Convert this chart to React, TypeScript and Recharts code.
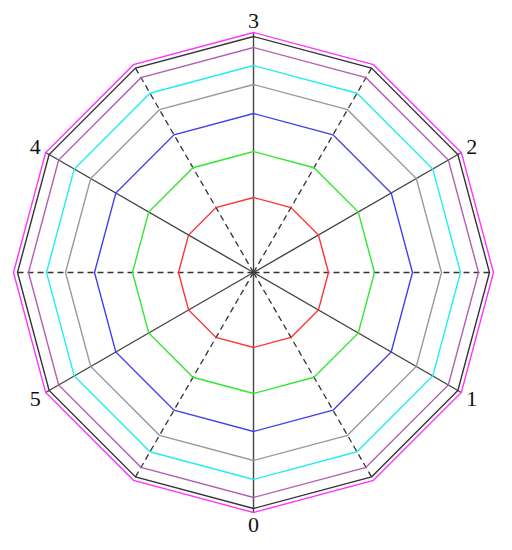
import React from 'react';
import { RadarChart, Radar, PolarGrid, PolarAngleAxis, PolarRadiusAxis } from 'recharts';

// 12 spokes, every other one carries a label
const spokes = [0, 0.5, 1, 1.5, 2, 2.5, 3, 3.5, 4, 4.5, 5, 5.5];
const solidAngles = [-90, -30, 30, 90, 150, 210];
const dashedAngles = [-60, 0, 60, 120, 180, 240];

// ring values (constant around the circle)
const seriesNames = ['red', 'green', 'blue', 'gray', 'cyan', 'purple', 'black', 'magenta'];
const seriesValues = [75, 121, 159, 188, 207, 225, 236, 240];
const seriesColors = ['#ff3333', '#33e633', '#3f3fee', '#999999', '#22eeee', '#b060b0', '#333333', '#ff33ff'];

const data = spokes.map((s) => {
  const row: Record<string, number> = { spoke: s };
  seriesNames.forEach((n, i) => {
    row[n] = seriesValues[i];
  });
  return row;
});

const CX = 245.5;
const CY = 264.5;
const R = 240;

const SpokeTick = (props: any) => {
  const v = Number(props.payload.value);
  if (!Number.isInteger(v)) return null;
  // label 0 at the bottom, going counter-clockwise
  const a = (-(-90 + 60 * v) * Math.PI) / 180;
  const x = CX + 252 * Math.cos(a);
  const y = CY + 252 * Math.sin(a);
  return (
    <text
      x={x}
      y={y}
      textAnchor="middle"
      dominantBaseline="central"
      fontFamily="'Liberation Serif', serif"
      fontSize={22}
      fill="#111"
    >
      {String(v)}
    </text>
  );
};

export default function App() {
  return (
    <RadarChart
      width={496}
      height={534}
      data={data}
      cx={CX}
      cy={CY}
      outerRadius={R}
      startAngle={-90}
      endAngle={270}
      margin={{ top: 0, right: 0, bottom: 0, left: 0 }}
      style={{ overflow: 'visible' }}
    >
      <PolarGrid polarAngles={dashedAngles} polarRadius={[]} stroke="#333" strokeWidth={1.3} strokeDasharray="6 4" />
      <PolarGrid polarAngles={solidAngles} polarRadius={[]} stroke="#444" strokeWidth={1.4} />
      <PolarAngleAxis dataKey="spoke" axisLine={false} tickLine={false} tick={<SpokeTick />} />
      <PolarRadiusAxis domain={[0, 240]} tick={false} axisLine={false} />
      {seriesNames.map((n, i) => (
        <Radar
          key={n}
          dataKey={n}
          stroke={seriesColors[i]}
          strokeWidth={1.4}
          fill="none"
          fillOpacity={0}
          dot={false}
          isAnimationActive={false}
        />
      ))}
    </RadarChart>
  );
}
